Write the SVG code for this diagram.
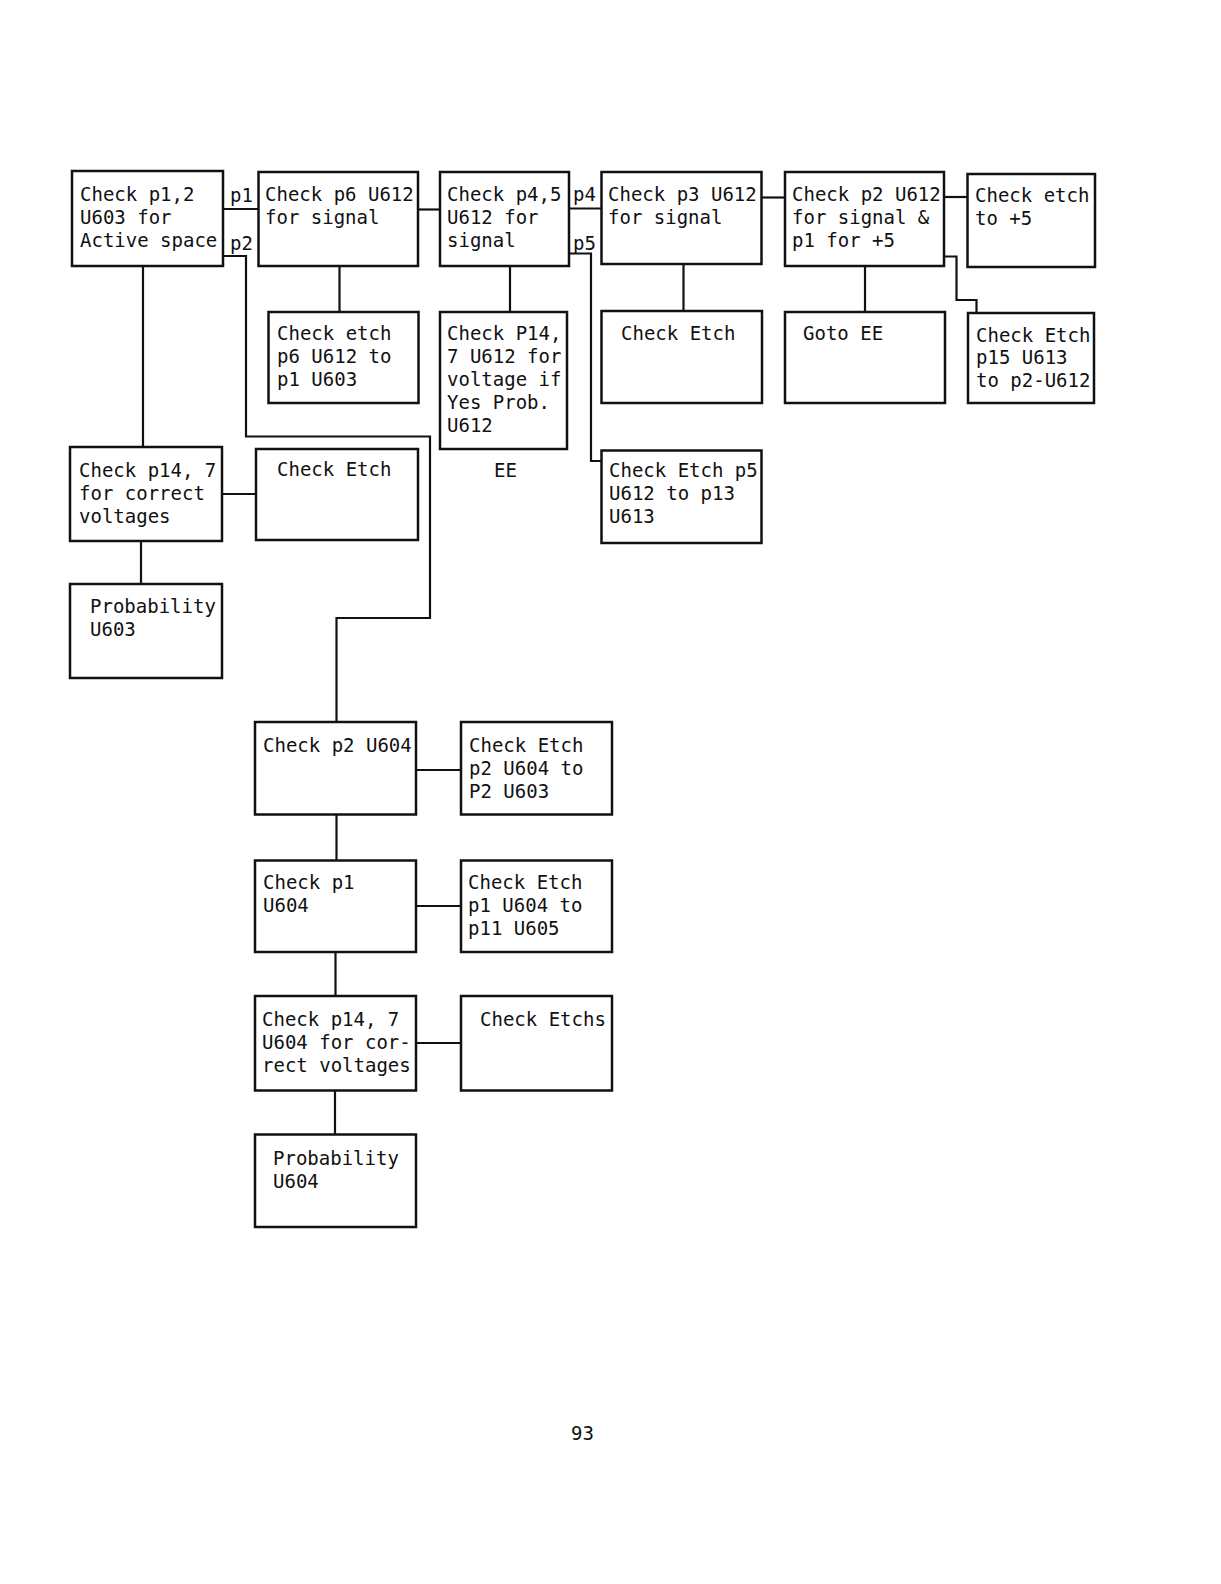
<svg xmlns="http://www.w3.org/2000/svg" width="1221" height="1584" viewBox="0 0 1221 1584">
<style>
.b{fill:#fff;stroke:#111;stroke-width:2.5}
.c{fill:none;stroke:#111;stroke-width:2.2}
.t{font-family:"DejaVu Sans Mono","Liberation Mono",monospace;font-size:19px;fill:#111}
</style>
<rect width="1221" height="1584" fill="#fff"/>
<g id="connectors">
<path class="c" d="M223,209 H258.5"/>
<path class="c" d="M223,256 H246 V436.5 H430 V618 H336.5 V722"/>
<path class="c" d="M143,266 V447"/>
<path class="c" d="M141,541 V584"/>
<path class="c" d="M222,494 H256"/>
<path class="c" d="M418,209.5 H440"/>
<path class="c" d="M339.5,266 V312"/>
<path class="c" d="M510,266 V312"/>
<path class="c" d="M569,208.5 H601.5"/>
<path class="c" d="M569,253.5 H591 V461 H601.5"/>
<path class="c" d="M761.5,197.5 H785"/>
<path class="c" d="M683.5,264 V311"/>
<path class="c" d="M944,197 H967.5"/>
<path class="c" d="M865,266 V312"/>
<path class="c" d="M944,256.5 H956.5 V300 H976.5 V313"/>
<path class="c" d="M416,770 H461"/>
<path class="c" d="M336.5,814.5 V860.5"/>
<path class="c" d="M416,906 H461"/>
<path class="c" d="M335.5,952 V996"/>
<path class="c" d="M416,1043 H461"/>
<path class="c" d="M335,1090.5 V1134.5"/>
<text class="t" x="230" y="202">p1</text>
<text class="t" x="230" y="250">p2</text>
<text class="t" x="573" y="201">p4</text>
<text class="t" x="573" y="250">p5</text>
</g>
<g id="n1"><rect class="b" x="72" y="171" width="151" height="95"/>
<text class="t" x="80" y="201">Check p1,2</text><text class="t" x="80" y="224">U603 for</text><text class="t" x="80" y="247">Active space</text></g>
<g id="n2"><rect class="b" x="258.5" y="172" width="159.5" height="94"/>
<text class="t" x="265" y="201">Check p6 U612</text><text class="t" x="265" y="224">for signal</text></g>
<g id="n3"><rect class="b" x="440" y="172" width="129" height="94"/>
<text class="t" x="447" y="201">Check p4,5</text><text class="t" x="447" y="224">U612 for</text><text class="t" x="447" y="247">signal</text></g>
<g id="n4"><rect class="b" x="601.5" y="172" width="160" height="92"/>
<text class="t" x="608" y="201">Check p3 U612</text><text class="t" x="608" y="224">for signal</text></g>
<g id="n5"><rect class="b" x="785" y="172" width="159" height="94"/>
<text class="t" x="792" y="201">Check p2 U612</text><text class="t" x="792" y="224">for signal &amp;</text><text class="t" x="792" y="247">p1 for +5</text></g>
<g id="n6"><rect class="b" x="967.5" y="174" width="127.5" height="93"/>
<text class="t" x="975" y="202">Check etch</text><text class="t" x="975" y="225">to +5</text></g>
<g id="n7"><rect class="b" x="268.5" y="312" width="150" height="91"/>
<text class="t" x="277" y="340">Check etch</text><text class="t" x="277" y="363">p6 U612 to</text><text class="t" x="277" y="386">p1 U603</text></g>
<g id="n8"><rect class="b" x="440" y="312" width="127" height="137"/>
<text class="t" x="447" y="340">Check P14,</text><text class="t" x="447" y="363">7 U612 for</text><text class="t" x="447" y="386">voltage if</text><text class="t" x="447" y="409">Yes Prob.</text><text class="t" x="447" y="432">U612</text></g>
<text class="t" x="494" y="477">EE</text>
<g id="n9"><rect class="b" x="601.5" y="311" width="160.5" height="92"/>
<text class="t" x="621" y="340">Check Etch</text></g>
<g id="n10"><rect class="b" x="785" y="312" width="160" height="91"/>
<text class="t" x="803" y="340">Goto EE</text></g>
<g id="n11"><rect class="b" x="968" y="313" width="126" height="90"/>
<text class="t" x="976" y="342">Check Etch</text><text class="t" x="976" y="364">p15 U613</text><text class="t" x="976" y="387">to p2-U612</text></g>
<g id="n12"><rect class="b" x="601.5" y="450.5" width="160" height="92.5"/>
<text class="t" x="609" y="477">Check Etch p5</text><text class="t" x="609" y="500">U612 to p13</text><text class="t" x="609" y="523">U613</text></g>
<g id="n13"><rect class="b" x="70" y="447" width="152" height="94"/>
<text class="t" x="79" y="477">Check p14, 7</text><text class="t" x="79" y="500">for correct</text><text class="t" x="79" y="523">voltages</text></g>
<g id="n14"><rect class="b" x="256" y="449" width="162" height="91"/>
<text class="t" x="277" y="476">Check Etch</text></g>
<g id="n15"><rect class="b" x="70" y="584" width="152" height="94"/>
<text class="t" x="90" y="613">Probability</text><text class="t" x="90" y="636">U603</text></g>
<g id="n16"><rect class="b" x="255" y="722" width="161" height="92.5"/>
<text class="t" x="263" y="752">Check p2 U604</text></g>
<g id="n17"><rect class="b" x="461" y="722" width="151" height="92.5"/>
<text class="t" x="469" y="752">Check Etch</text><text class="t" x="469" y="775">p2 U604 to</text><text class="t" x="469" y="798">P2 U603</text></g>
<g id="n18"><rect class="b" x="255" y="860.5" width="161" height="91.5"/>
<text class="t" x="263" y="889">Check p1</text><text class="t" x="263" y="912">U604</text></g>
<g id="n19"><rect class="b" x="461" y="860.5" width="151" height="91.5"/>
<text class="t" x="468" y="889">Check Etch</text><text class="t" x="468" y="912">p1 U604 to</text><text class="t" x="468" y="935">p11 U605</text></g>
<g id="n20"><rect class="b" x="255" y="996" width="161" height="94.5"/>
<text class="t" x="262" y="1026">Check p14, 7</text><text class="t" x="262" y="1049">U604 for cor-</text><text class="t" x="262" y="1072">rect voltages</text></g>
<g id="n21"><rect class="b" x="461" y="996" width="151" height="94.5"/>
<text class="t" x="480" y="1026">Check Etchs</text></g>
<g id="n22"><rect class="b" x="255" y="1134.5" width="161" height="92.5"/>
<text class="t" x="273" y="1165">Probability</text><text class="t" x="273" y="1188">U604</text></g>
<text class="t" x="571" y="1440" font-size="20">93</text>
</svg>
